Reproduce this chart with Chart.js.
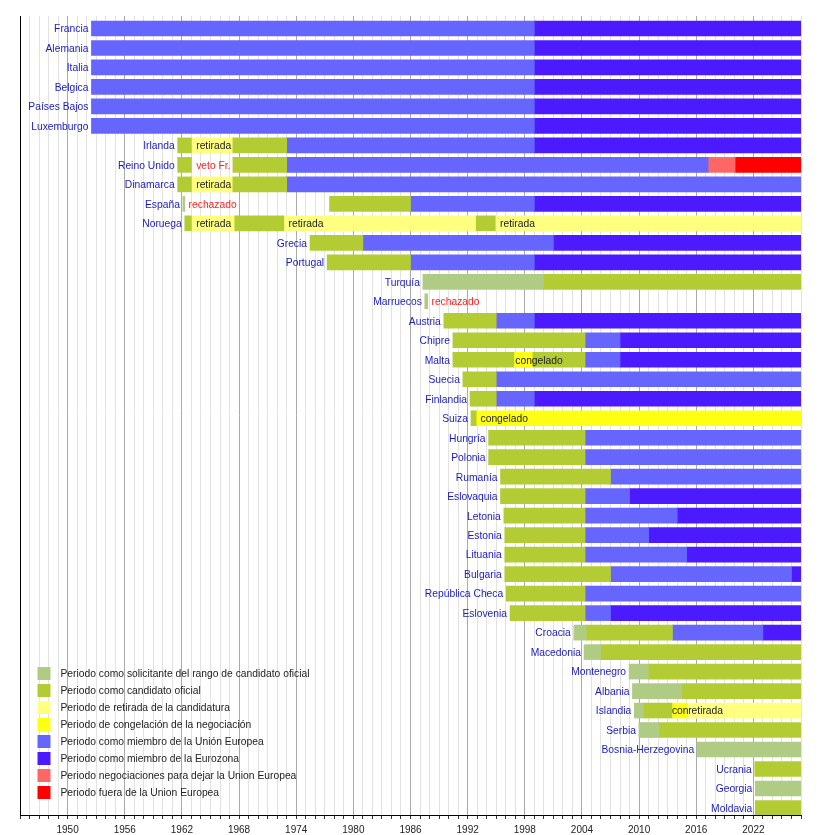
<!DOCTYPE html>
<html><head><meta charset="utf-8">
<script src="https://cdn.jsdelivr.net/npm/chart.js@4.4.0/dist/chart.umd.min.js"></script>
<style>html,body{margin:0;padding:0;background:#fff;}#wrap{width:840px;height:835px;}</style>
</head><body><div id="wrap"><canvas id="c" width="840" height="835"></canvas></div>
<script>
const countries = ["Francia","Alemania","Italia","Belgica","Países Bajos","Luxemburgo","Irlanda","Reino Unido","Dinamarca","España","Noruega","Grecia","Portugal","Turquía","Marruecos","Austria","Chipre","Malta","Suecia","Finlandia","Suiza","Hungría","Polonia","Rumanía","Eslovaquia","Letonia","Estonia","Lituania","Bulgaria","República Checa","Eslovenia","Croacia","Macedonia","Montenegro","Albania","Islandia","Serbia","Bosnia-Herzegovina","Ucrania","Georgia","Moldavia"];

const legendLabels = ["Periodo como solicitante del rango de candidato oficial","Periodo como candidato oficial","Periodo de retirada de la candidatura","Periodo de congelación de la negociación","Periodo como miembro de la Unión Europea","Periodo como miembro de la Eurozona","Periodo negociaciones para dejar la Union Europea","Periodo fuera de la Union Europea"];

const tickYears = [1950,1956,1962,1968,1974,1980,1986,1992,1998,2004,2010,2016,2022];

// [country, start, end]
const solicitante = [
  ["España",1962.1,1962.3],["Turquía",1987.3,1999.95],["Marruecos",1987.5,1987.8],
  ["Croacia",2003.15,2004.45],["Macedonia",2004.22,2005.95],["Montenegro",2008.95,2010.95],
  ["Albania",2009.3,2014.48],["Islandia",2009.5,2010.45],["Serbia",2009.98,2012.1],
  ["Bosnia-Herzegovina",2016.1,2027],["Georgia",2022.2,2027]
];
const candidato = [
  ["Irlanda",1961.55,1963.0],["Irlanda",1967.35,1973.0],
  ["Reino Unido",1961.55,1963.0],["Reino Unido",1967.35,1973.0],
  ["Dinamarca",1961.55,1963.0],["Dinamarca",1967.35,1973.0],
  ["España",1977.5,1986.0],
  ["Noruega",1962.3,1963.0],["Noruega",1967.55,1972.7],["Noruega",1992.9,1994.9],
  ["Grecia",1975.45,1981.0],["Portugal",1977.25,1986.0],["Turquía",1999.95,2027],
  ["Austria",1989.5,1995.0],["Chipre",1990.45,2004.33],
  ["Malta",1990.45,1996.85],["Malta",1998.85,2004.33],
  ["Suecia",1991.5,1995.0],["Finlandia",1992.25,1995.0],["Suiza",1992.35,1992.9],
  ["Hungría",1994.2,2004.33],["Polonia",1994.2,2004.33],["Rumanía",1995.45,2007.0],
  ["Eslovaquia",1995.45,2004.33],["Letonia",1995.8,2004.33],["Estonia",1995.9,2004.33],
  ["Lituania",1995.9,2004.33],["Bulgaria",1995.9,2007.0],["República Checa",1996.05,2004.33],
  ["Eslovenia",1996.45,2004.33],["Croacia",2004.45,2013.5],["Macedonia",2005.95,2027],
  ["Montenegro",2010.95,2027],["Albania",2014.48,2027],["Islandia",2010.45,2013.45],
  ["Serbia",2012.1,2027],["Ucrania",2022.15,2027],["Moldavia",2022.2,2027]
];
const retirada = [
  ["Irlanda",1963.0,1967.35],["Dinamarca",1963.0,1967.35],
  ["Noruega",1963.0,1967.55],["Noruega",1972.7,1992.9],["Noruega",1994.9,2027],
  ["Islandia",2015.15,2027]
];
const congelado = [
  ["Malta",1996.85,1998.85],["Suiza",1992.9,2027],["Islandia",2013.45,2015.15]
];
const miembroUE = [
  ["Francia",1952.5,1999],["Alemania",1952.5,1999],["Italia",1952.5,1999],["Belgica",1952.5,1999],
  ["Países Bajos",1952.5,1999],["Luxemburgo",1952.5,1999],["Irlanda",1973,1999],
  ["Reino Unido",1973,2017.25],["Dinamarca",1973,2027],["España",1986,1999],["Grecia",1981,2001],
  ["Portugal",1986,1999],["Austria",1995,1999],["Chipre",2004.33,2008],["Malta",2004.33,2008],
  ["Suecia",1995,2027],["Finlandia",1995,1999],["Hungría",2004.33,2027],["Polonia",2004.33,2027],
  ["Rumanía",2007,2027],["Eslovaquia",2004.33,2009],["Letonia",2004.33,2014],["Estonia",2004.33,2011],
  ["Lituania",2004.33,2015],["Bulgaria",2007,2026],["República Checa",2004.33,2027],
  ["Eslovenia",2004.33,2007],["Croacia",2013.5,2023]
];
const eurozona = [
  ["Francia",1999,2027],["Alemania",1999,2027],["Italia",1999,2027],["Belgica",1999,2027],
  ["Países Bajos",1999,2027],["Luxemburgo",1999,2027],["Irlanda",1999,2027],["España",1999,2027],
  ["Grecia",2001,2027],["Portugal",1999,2027],["Austria",1999,2027],["Chipre",2008,2027],
  ["Malta",2008,2027],["Finlandia",1999,2027],["Eslovaquia",2009,2027],["Letonia",2014,2027],
  ["Estonia",2011,2027],["Lituania",2015,2027],["Bulgaria",2026,2027],["Eslovenia",2007,2027],
  ["Croacia",2023,2027]
];
const negociacionSalida = [["Reino Unido",2017.25,2020.08]];
const fueraUE = [["Reino Unido",2020.08,2027]];

// [country, year, text, tone]
const notes = [
  ["Irlanda",1963.5,"retirada","dark"],["Reino Unido",1963.5,"veto Fr.","red"],
  ["Dinamarca",1963.5,"retirada","dark"],["España",1962.7,"rechazado","red"],
  ["Noruega",1963.5,"retirada","dark"],["Noruega",1973.2,"retirada","dark"],
  ["Noruega",1995.4,"retirada","dark"],["Marruecos",1988.2,"rechazado","red"],
  ["Malta",1997.0,"congelado","dark"],["Suiza",1993.35,"congelado","dark"],
  ["Islandia",2013.45,"con","dark"],["Islandia",2015.15,"retirada","dark"]
];

const seriesList = [solicitante,candidato,retirada,congelado,miembroUE,eurozona,negociacionSalida,fueraUE];
const palette = ["#b0cc84","#b4cc34","#ffff80","#ffff14","#6666ff","#4c1aff","#ff6666","#ff0000"];
const allSegments = seriesList.flat();

const FONT = '"Liberation Sans", Arial, sans-serif';

const datasets = seriesList.map((segs, k) => ({
  label: legendLabels[k],
  data: segs.map(([c, a, b]) => ({ y: countries.indexOf(c), x: [a, b] })),
  backgroundColor: palette[k],
  borderWidth: 0,
  borderSkipped: false,
  grouped: false,
  barThickness: 15,
  clip: 0
}));

const overlay = {
  id: 'overlay',
  afterDatasetsDraw(chart) {
    const { ctx, chartArea, scales: { x, y } } = chart;
    ctx.save();
    ctx.font = '10.3px ' + FONT;
    ctx.textBaseline = 'middle';
    ctx.textAlign = 'right';
    ctx.fillStyle = '#1a1ac4';
    countries.forEach((c, i) => {
      const start = Math.min(...allSegments.filter(s => s[0] === c).map(s => s[1]));
      ctx.fillText(c, x.getPixelForValue(start) - 3, y.getPixelForValue(i) + 1);
    });
    ctx.textAlign = 'left';
    notes.forEach(([c, yr, txt, tone]) => {
      ctx.fillStyle = tone === 'red' ? '#ff2020' : '#222222';
      ctx.fillText(txt, x.getPixelForValue(yr), y.getPixelForValue(countries.indexOf(c)) + 1);
    });
    const lx = chartArea.left + 17.5, ly = chartArea.bottom - 148;
    chart.data.datasets.forEach((ds, k) => {
      const top = ly + k * 17;
      ctx.fillStyle = ds.backgroundColor;
      ctx.fillRect(lx, top, 13, 13);
      ctx.fillStyle = '#222222';
      ctx.fillText(ds.label, lx + 23, top + 7.5);
    });
    ctx.restore();
  }
};

new Chart(document.getElementById('c'), {
  type: 'bar',
  data: { datasets },
  options: {
    indexAxis: 'y',
    responsive: false,
    animation: false,
    events: [],
    layout: { padding: { left: 20, top: 16, right: 39, bottom: 0 } },
    plugins: { legend: { display: false }, tooltip: { enabled: false } },
    scales: {
      x: {
        type: 'linear', min: 1945, max: 2027, offset: false,
        afterFit: s => { s.height = 20; },
        ticks: {
          stepSize: 1, autoSkip: false, maxRotation: 0, padding: 5,
          color: '#222', font: { family: FONT, size: 10 },
          callback: v => tickYears.includes(v) ? String(v) : ''
        },
        grid: {
          offset: false,
          color: c => (c.tick && tickYears.includes(c.tick.value)) ? '#aaaaaa' : '#e2e2e2',
          tickColor: '#333', tickLength: 4, lineWidth: 1
        },
        border: { display: true, color: '#000', width: 1 }
      },
      y: {
        type: 'linear', min: -0.64, max: 40.36, reverse: true,
        offset: false, bounds: 'data', grace: 0, beginAtZero: false,
        afterFit: s => { s.width = 0; },
        ticks: { display: false, stepSize: 1 },
        grid: { display: false, offset: false },
        border: { display: true, color: '#000', width: 1 }
      }
    }
  },
  plugins: [overlay]
});
</script></body></html>
